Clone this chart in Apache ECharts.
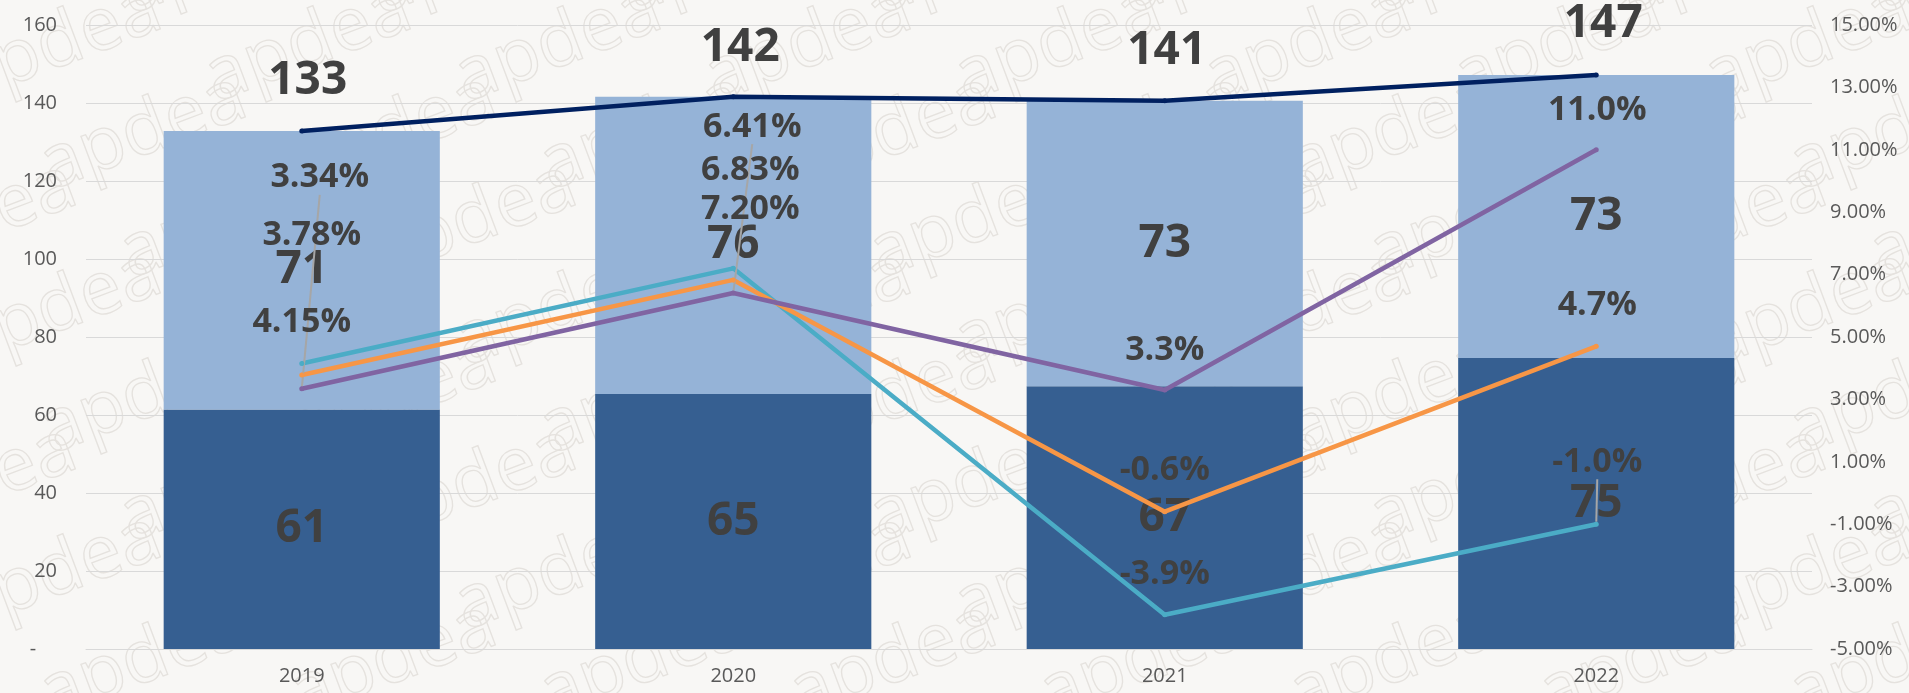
<!DOCTYPE html>
<html>
<head>
<meta charset="utf-8">
<script src="https://cdn.jsdelivr.net/npm/echarts@6/dist/echarts.min.js"></script>
<style>
  html, body { margin: 0; padding: 0; background: #f8f7f5; }
  #chart { width: 1909px; height: 693px; }
</style>
</head>
<body>
<div id="chart"></div>
<script>
// datos
var years = ['2019', '2020', '2021', '2022'];
var baseVals = [61.4, 65.4, 67.4, 74.6];
var topVals = [71.4, 76.2, 73.2, 72.6];
var totalVals = [132.8, 141.6, 140.6, 147.2];
var cyanVals = [4.15, 7.20, -3.9, -1.0];
var orangeVals = [3.78, 6.83, -0.6, 4.7];
var purpleVals = [3.34, 6.41, 3.3, 11.0];
var pctDigits = [2, 2, 1, 1];

// desplazamiento de etiquetas [dx, dy] respecto al punto
var totalOff = [[6, -50], [7, -49], [2, -50], [7, -51]];
var cyanOff = [[0, -41], [17, -59], [0, -40], [1, -62]];
var orangeOff = [[10, -140], [17, -110], [0, -41], [1, -41]];
var purpleOff = [[18, -211], [19, -166], [0, -40], [1, -39]];
var cyanGuide = [false, false, false, true];
var purpleGuide = [true, true, false, false];

var FONT = '"Open Sans", "Noto Sans", sans-serif';
var myChart = echarts.init(document.getElementById('chart'));

function layoutFrom(offs) {
    return function (p) {
        var o = offs[p.dataIndex];
        return { dx: o[0], dy: o[1] };
    };
}

function pctData(vals, guides) {
    return vals.map(function (v, i) {
        return {
            value: v,
            labelLine: { show: !!(guides && guides[i]), lineStyle: { color: '#a6a6a6', width: 2 } }
        };
    });
}

var pctLabel = {
    show: true,
    position: 'inside',
    fontFamily: FONT,
    fontSize: 34,
    fontWeight: 'bold',
    color: '#404040',
    formatter: function (p) { return p.value.toFixed(pctDigits[p.dataIndex]) + '%'; }
};

var barLabel = {
    show: true,
    position: 'inside',
    fontFamily: FONT,
    fontSize: 46,
    fontWeight: 'bold',
    color: '#404040',
    formatter: function (p) { return Math.round(p.value); }
};

// marca de agua
var marks = [];
for (var r = 0; r < 10; r++) {
    for (var c = 0; c < 9; c++) {
        marks.push({
            type: 'text',
            x: -140 + c * 250 + (r % 3) * 85,
            y: -40 + r * 88,
            rotation: 0.36,
            silent: true,
            z: -1,
            style: {
                text: 'apdea',
                fontFamily: '"Open Sans", sans-serif',
                fontSize: 74,
                fill: 'transparent',
                stroke: '#e5e2de',
                lineWidth: 1.3
            }
        });
    }
}

var option = {
    backgroundColor: '#f8f7f5',
    animation: false,
    graphic: { elements: marks },
    grid: { left: 86, right: 97, top: 25, bottom: 44 },
    xAxis: {
        type: 'category',
        data: years,
        axisTick: { show: false },
        axisLine: { lineStyle: { color: '#d9d9d9', width: 1 } },
        axisLabel: { color: '#595959', fontFamily: FONT, fontSize: 20, margin: 17 }
    },
    yAxis: [
        {
            type: 'value',
            min: 0, max: 160, interval: 20,
            axisLine: { show: false },
            axisTick: { show: false },
            splitLine: { lineStyle: { color: '#d9d9d9', width: 1 } },
            axisLabel: {
                color: '#595959', fontFamily: FONT, fontSize: 20, margin: 29,
                formatter: function (v) { return v === 0 ? '-    ' : v; }
            }
        },
        {
            type: 'value',
            min: -5, max: 15, interval: 2,
            axisLine: { show: false },
            axisTick: { show: false },
            splitLine: { show: false },
            axisLabel: {
                color: '#595959', fontFamily: FONT, fontSize: 20, margin: 18,
                formatter: function (v) { return v.toFixed(2) + '%'; }
            }
        }
    ],
    series: [
        {
            name: 'base', type: 'bar', stack: 'a', barWidth: '64%',
            data: baseVals,
            itemStyle: { color: '#365f91' },
            label: barLabel
        },
        {
            name: 'top', type: 'bar', stack: 'a',
            data: topVals,
            itemStyle: { color: '#95b3d7' },
            label: barLabel
        },
        {
            name: 'total', type: 'line', data: totalVals,
            symbol: 'circle', symbolSize: 5,
            lineStyle: { color: '#002060', width: 4.5 },
            itemStyle: { color: '#002060' },
            label: {
                show: true, position: 'inside', fontFamily: FONT, fontSize: 46,
                fontWeight: 'bold', color: '#404040',
                formatter: function (p) { return Math.round(p.value); }
            },
            labelLayout: layoutFrom(totalOff),
            z: 3
        },
        {
            name: 'cyan', type: 'line', yAxisIndex: 1, data: pctData(cyanVals, cyanGuide),
            symbol: 'circle', symbolSize: 5,
            lineStyle: { color: '#4bacc6', width: 4.5 },
            itemStyle: { color: '#4bacc6' },
            label: pctLabel,
            labelLayout: layoutFrom(cyanOff),
            z: 3
        },
        {
            name: 'orange', type: 'line', yAxisIndex: 1, data: pctData(orangeVals),
            symbol: 'circle', symbolSize: 5,
            lineStyle: { color: '#f79646', width: 4.5 },
            itemStyle: { color: '#f79646' },
            label: pctLabel,
            labelLayout: layoutFrom(orangeOff),
            z: 3
        },
        {
            name: 'purple', type: 'line', yAxisIndex: 1, data: pctData(purpleVals, purpleGuide),
            symbol: 'circle', symbolSize: 5,
            lineStyle: { color: '#8064a2', width: 4.5 },
            itemStyle: { color: '#8064a2' },
            label: pctLabel,
            labelLayout: layoutFrom(purpleOff),
            z: 3
        }
    ]
};

myChart.setOption(option);
</script>
</body>
</html>
